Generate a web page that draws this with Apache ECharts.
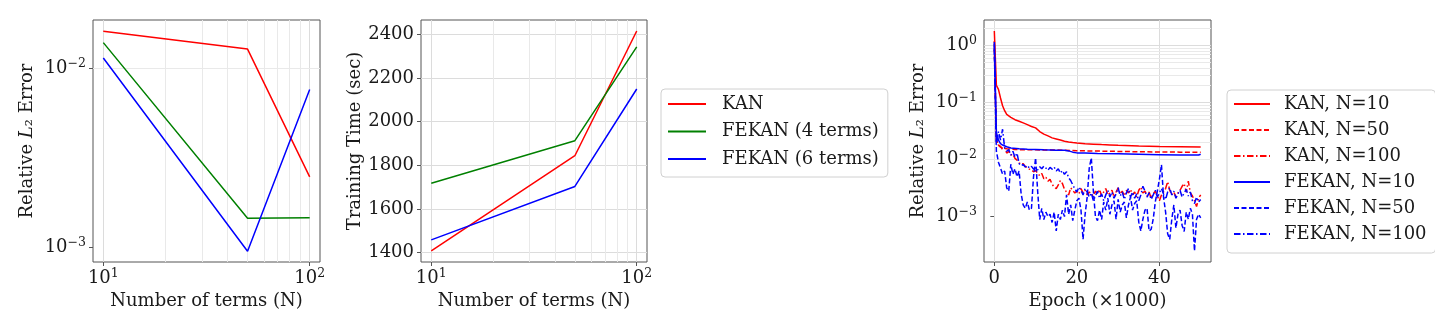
<!DOCTYPE html>
<html>
<head>
<meta charset="utf-8">
<script src="https://cdn.jsdelivr.net/npm/echarts@6/dist/echarts.min.js"></script>
<style>
  html, body { margin: 0; padding: 0; background: #fff; }
  #chart { width: 1435px; height: 323px; }
</style>
</head>
<body>
<div id="chart"></div>
<script>
// number of terms vs error / training time
const termsN = [10, 50, 100];
const kanErr = [0.0161, 0.0128, 0.00247];
const fekan4Err = [0.0139, 0.00145, 0.00146];
const fekan6Err = [0.0114, 0.00095, 0.0076];
const kanTime = [1407, 1844, 2416];
const fekan4Time = [1718, 1913, 2343];
const fekan6Time = [1458, 1703, 2150];

// training curves (epoch x1000)
const kan10Epochs = [0, 0.5, 1, 1.5, 2, 2.5, 3, 4, 5, 6, 7, 8, 9, 10, 11, 12, 13, 14, 15, 16, 17, 18, 19, 20, 22, 24, 26, 28, 30, 35, 40, 45, 50];
const kan10 = [1.8, 0.2, 0.17, 0.12, 0.088, 0.072, 0.062, 0.055, 0.05, 0.047, 0.044, 0.041, 0.038, 0.036, 0.031, 0.028, 0.026, 0.024, 0.023, 0.022, 0.021, 0.0204, 0.0199, 0.0195, 0.0189, 0.0186, 0.0183, 0.0181, 0.0178, 0.0173, 0.017, 0.0168, 0.0166];
const kan50Epochs = [0, 0.5, 1, 1.5, 2, 3, 4, 5, 7, 10, 15, 20, 25, 30, 35, 40, 45, 50];
const kan50 = [0.9, 0.022, 0.018, 0.0165, 0.016, 0.0155, 0.0152, 0.015, 0.0149, 0.0148, 0.0147, 0.0143, 0.0141, 0.0139, 0.0137, 0.0136, 0.0135, 0.0134];
const fekan10Epochs = [0, 0.5, 1, 1.5, 2, 3, 4, 6, 8, 10, 12, 15, 17, 18, 19, 20, 22, 25, 30, 35, 40, 45, 49.5, 50];
const fekan10 = [1.15, 0.03, 0.022, 0.019, 0.018, 0.0168, 0.016, 0.0155, 0.0152, 0.015, 0.0148, 0.0146, 0.0145, 0.0142, 0.0135, 0.0131, 0.013, 0.0128, 0.0126, 0.0124, 0.0122, 0.012, 0.012, 0.0124];
const halfEpochs = [0, 0.5, 1, 1.5, 2, 2.5, 3, 3.5, 4, 4.5, 5, 5.5, 6, 6.5, 7, 7.5, 8, 8.5, 9, 9.5,
  10, 10.5, 11, 11.5, 12, 12.5, 13, 13.5, 14, 14.5, 15, 15.5, 16, 16.5, 17, 17.5, 18, 18.5, 19, 19.5,
  20, 20.5, 21, 21.5, 22, 22.5, 23, 23.5, 24, 24.5, 25, 25.5, 26, 26.5, 27, 27.5, 28, 28.5, 29, 29.5,
  30, 30.5, 31, 31.5, 32, 32.5, 33, 33.5, 34, 34.5, 35, 35.5, 36, 36.5, 37, 37.5, 38, 38.5, 39, 39.5,
  40, 40.5, 41, 41.5, 42, 42.5, 43, 43.5, 44, 44.5, 45, 45.5, 46, 46.5, 47, 47.5, 48, 48.5, 49, 49.5, 50];
const kan100 = [1.2, 0.021, 0.018, 0.017, 0.015, 0.016, 0.013, 0.014, 0.012, 0.0125,
  0.0105, 0.0098, 0.0088, 0.0082, 0.0085, 0.0075, 0.0072, 0.0068, 0.0066, 0.0061,
  0.0064, 0.0058, 0.0052, 0.0057, 0.0046, 0.0049, 0.0042, 0.0045, 0.0037, 0.0033,
  0.0031, 0.0036, 0.0043, 0.0038, 0.003, 0.0027, 0.0024, 0.0032, 0.0029, 0.0026,
  0.0028, 0.0025, 0.0031, 0.0026, 0.0029, 0.0024, 0.0027, 0.0025, 0.0023, 0.0028,
  0.0025, 0.003, 0.0023, 0.0027, 0.0031, 0.0024, 0.0026, 0.0029, 0.0022, 0.0027,
  0.0032, 0.0025, 0.0028, 0.0023, 0.0029, 0.0026, 0.003, 0.0024, 0.0027, 0.0022,
  0.0029, 0.0033, 0.0026, 0.0028, 0.0023, 0.0027, 0.0021, 0.0025, 0.0028, 0.0023,
  0.0019, 0.0024, 0.0027, 0.0031, 0.0041, 0.0029, 0.0024, 0.0027, 0.0022, 0.0026,
  0.0029, 0.0034, 0.0038, 0.0027, 0.0042, 0.0026, 0.0023, 0.0019, 0.0015, 0.0021,
  0.0024];
const fekan50 = [0.85, 0.014, 0.009, 0.0071, 0.0056, 0.0063, 0.0032, 0.0028, 0.0083, 0.0055,
  0.0069, 0.005, 0.0063, 0.0025, 0.0016, 0.0014, 0.0018, 0.0013, 0.0014, 0.005,
  0.0107, 0.0028, 0.00089, 0.0014, 0.00089, 0.0012, 0.001, 0.0011, 0.00079, 0.0012,
  0.00056, 0.0011, 0.00089, 0.0013, 0.001, 0.0024, 0.0011, 0.0016, 0.00085, 0.0013,
  0.0019, 0.0021, 0.0013, 0.0004, 0.0011, 0.0022, 0.0071, 0.0107, 0.0028, 0.001,
  0.00085, 0.0013, 0.00089, 0.0018, 0.0013, 0.0021, 0.0011, 0.0016, 0.0019, 0.0009,
  0.002, 0.0012, 0.0016, 0.0018, 0.00095, 0.0016, 0.0022, 0.0013, 0.0017, 0.0019,
  0.0008, 0.00056, 0.0009, 0.0013, 0.0014, 0.00056, 0.0006, 0.0009, 0.0018, 0.0028,
  0.0045, 0.0081, 0.0022, 0.0012, 0.0005, 0.0004, 0.0009, 0.0016, 0.00063, 0.0011,
  0.0013, 0.0007, 0.00055, 0.0012, 0.0009, 0.0014, 0.0011, 0.00025, 0.0009, 0.0011,
  0.00095];
const fekan100 = [1.05, 0.018, 0.031, 0.022, 0.034, 0.016, 0.014, 0.015, 0.012, 0.014,
  0.011, 0.013, 0.0085, 0.0078, 0.0082, 0.0074, 0.0079, 0.0071, 0.0076, 0.0068,
  0.0072, 0.0066, 0.0075, 0.0069, 0.0077, 0.0071, 0.0065, 0.0073, 0.0068, 0.0074,
  0.0063, 0.0069, 0.0058, 0.0064, 0.0055, 0.0061, 0.0048, 0.0043, 0.0036, 0.0031,
  0.0027, 0.0033, 0.0029, 0.0024, 0.0031, 0.0027, 0.0022, 0.0026, 0.0019, 0.0023,
  0.0028, 0.0021, 0.0025, 0.0019, 0.0024, 0.0029, 0.0022, 0.0027, 0.0021, 0.0025,
  0.0032, 0.0023, 0.0027, 0.002, 0.0026, 0.0031, 0.0022, 0.0027, 0.0021, 0.0025,
  0.0019, 0.0024, 0.0034, 0.0028, 0.0022, 0.0026, 0.002, 0.0024, 0.0029, 0.0022,
  0.0026, 0.0031, 0.0025, 0.002, 0.0027, 0.0032, 0.0024, 0.0028, 0.0021, 0.0025,
  0.0029, 0.0022, 0.0026, 0.003, 0.0023, 0.0027, 0.0019, 0.0017, 0.0022, 0.0018,
  0.002];

// ticks and grid lines
const termTicks = [10, 100];
const termMinor = [20, 30, 40, 50, 60, 70, 80, 90];
const errTicks = [0.001, 0.01];
const errMinor = [0.0009, 0.002, 0.003, 0.004, 0.005, 0.006, 0.007, 0.008, 0.009];
const timeTicks = [1400, 1600, 1800, 2000, 2200, 2400];
const epochTicks = [0, 20, 40];
const curveTicks = [0.001, 0.01, 0.1, 1];
const curveMinor = [0.0002, 0.0003, 0.0004, 0.0005, 0.0006, 0.0007, 0.0008, 0.0009,
  0.002, 0.003, 0.004, 0.005, 0.006, 0.007, 0.008, 0.009,
  0.02, 0.03, 0.04, 0.05, 0.06, 0.07, 0.08, 0.09,
  0.2, 0.3, 0.4, 0.5, 0.6, 0.7, 0.8, 0.9, 2];

const FONT = 'DejaVu Serif';
const INK = '#1a1a1a';
const SPINE = '#555';
const MAJOR = '#dcdcdc';
const MINOR = '#e9e9e9';

// 10^e with a raised exponent
function powLabel(v) {
  const e = Math.round(Math.log10(v));
  return '{b|10}{s|' + String(e).replace('-', '−') + '}';
}
const powRich = {
  b: { fontFamily: FONT, fontSize: 18, lineHeight: 22, color: INK },
  s: { fontFamily: FONT, fontSize: 12.5, lineHeight: 13, color: INK, verticalAlign: 'top' }
};

const chart = echarts.init(document.getElementById('chart'));

function xAxisOf(idx, type, min, max, ticks, fmt, name, margin) {
  return {
    type, gridIndex: idx, min, max, logBase: 10,
    name, nameLocation: 'middle', nameGap: 28,
    nameTextStyle: { fontFamily: FONT, fontSize: 18, color: INK },
    axisLine: { show: false },
    axisTick: { show: true, length: 4, lineStyle: { color: SPINE }, customValues: ticks },
    axisLabel: { fontFamily: FONT, fontSize: 18, color: INK, margin, customValues: ticks, formatter: fmt, rich: powRich },
    splitLine: { show: false }
  };
}
function yAxisOf(idx, type, min, max, ticks, fmt, name, rich) {
  return {
    type, gridIndex: idx, min, max, logBase: 10,
    name, nameLocation: 'middle', nameGap: 57,
    nameTextStyle: { fontFamily: FONT, fontSize: 18, color: INK, rich },
    axisLine: { show: false },
    axisTick: { show: true, length: 4, lineStyle: { color: SPINE }, customValues: ticks },
    axisLabel: { fontFamily: FONT, fontSize: 18, color: INK, margin: 7, customValues: ticks, formatter: fmt, rich: powRich },
    splitLine: { show: false }
  };
}

function pairs(xs, ys) { return xs.map((x, i) => [x, ys[i]]); }
function line(name, idx, xs, ys, color, dash) {
  return {
    name, type: 'line', xAxisIndex: idx, yAxisIndex: idx,
    data: pairs(xs, ys), showSymbol: false, symbol: 'none', z: 3,
    lineStyle: { color, width: 1.5, type: dash || 'solid' },
    itemStyle: { color },
    emphasis: { disabled: true }
  };
}
function gridLines(idx, xs, ys, color) {
  return {
    type: 'line', xAxisIndex: idx, yAxisIndex: idx, data: [], silent: true,
    markLine: {
      silent: true, symbol: ['none', 'none'], z: 1, animation: false,
      label: { show: false }, emphasis: { disabled: true },
      lineStyle: { color, width: 1, type: 'solid' },
      data: xs.map(v => ({ xAxis: v })).concat(ys.map(v => ({ yAxis: v })))
    }
  };
}
function legendOf(names, left, top, lineLen, gap, padding, textPad) {
  return {
    data: names, orient: 'vertical', left, top,
    itemWidth: lineLen, itemHeight: 3, itemGap: gap, padding,
    borderColor: '#d0d0d0', borderWidth: 1, borderRadius: 4, backgroundColor: '#fff',
    itemStyle: { color: 'transparent', borderWidth: 0, opacity: 0 },
    textStyle: { fontFamily: FONT, fontSize: 18, lineHeight: 20, color: INK, padding: [0, 0, 0, textPad] }
  };
}

const errRich = {
  t: { fontFamily: FONT, fontSize: 18, color: INK },
  i: { fontFamily: FONT, fontSize: 18, color: INK, fontStyle: 'italic' }
};
const errName = '{t|Relative }{i|L}{t|₂ Error}';
const gridBox = { show: true, borderColor: SPINE, borderWidth: 1, backgroundColor: 'transparent' };
const plain = v => String(v);

const option = {
  animation: false,
  backgroundColor: '#fff',
  grid: [
    Object.assign({ left: 93, top: 20, width: 227, height: 242 }, gridBox),
    Object.assign({ left: 421, top: 20, width: 226, height: 242 }, gridBox),
    Object.assign({ left: 984, top: 20, width: 227, height: 242 }, gridBox)
  ],
  xAxis: [
    xAxisOf(0, 'log', 8.913, 112.2, termTicks, powLabel, 'Number of terms (N)', 5),
    xAxisOf(1, 'log', 8.913, 112.2, termTicks, powLabel, 'Number of terms (N)', 5),
    xAxisOf(2, 'value', -2.5, 52.5, epochTicks, plain, 'Epoch (×1000)', 7)
  ],
  yAxis: [
    yAxisOf(0, 'log', 0.000827, 0.0186, errTicks, powLabel, errName, errRich),
    yAxisOf(1, 'value', 1356.5, 2466.5, timeTicks, plain, 'Training Time (sec)'),
    yAxisOf(2, 'log', 0.00016, 2.8, curveTicks, powLabel, errName, errRich)
  ],
  legend: [
    legendOf(['KAN', 'FEKAN (4 terms)', 'FEKAN (6 terms)'], 661, 89, 38, 7.5, [5, 9, 8, 6], 11),
    legendOf(['KAN, N=10', 'KAN, N=50', 'KAN, N=100', 'FEKAN, N=10', 'FEKAN, N=50', 'FEKAN, N=100'],
      1227, 90, 36, 6, [4, 9, 9, 6], 9)
  ],
  series: [
    gridLines(0, termTicks, errTicks, MAJOR),
    gridLines(0, termMinor, errMinor, MINOR),
    gridLines(1, termTicks, timeTicks, MAJOR),
    gridLines(1, termMinor, [], MINOR),
    gridLines(2, epochTicks, curveTicks, MAJOR),
    gridLines(2, [], curveMinor, MINOR),

    line('KAN', 0, termsN, kanErr, '#ff0000'),
    line('FEKAN (4 terms)', 0, termsN, fekan4Err, '#008000'),
    line('FEKAN (6 terms)', 0, termsN, fekan6Err, '#0000ff'),
    line('KAN', 1, termsN, kanTime, '#ff0000'),
    line('FEKAN (4 terms)', 1, termsN, fekan4Time, '#008000'),
    line('FEKAN (6 terms)', 1, termsN, fekan6Time, '#0000ff'),

    line('KAN, N=10', 2, kan10Epochs, kan10, '#ff0000'),
    line('KAN, N=50', 2, kan50Epochs, kan50, '#ff0000', [5, 2.5]),
    line('KAN, N=100', 2, halfEpochs, kan100, '#ff0000', [6.5, 2.5, 1.5, 2.5]),
    line('FEKAN, N=10', 2, fekan10Epochs, fekan10, '#0000ff'),
    line('FEKAN, N=50', 2, halfEpochs, fekan50, '#0000ff', [5, 2.5]),
    line('FEKAN, N=100', 2, halfEpochs, fekan100, '#0000ff', [6.5, 2.5, 1.5, 2.5])
  ]
};

chart.setOption(option);
</script>
</body>
</html>
